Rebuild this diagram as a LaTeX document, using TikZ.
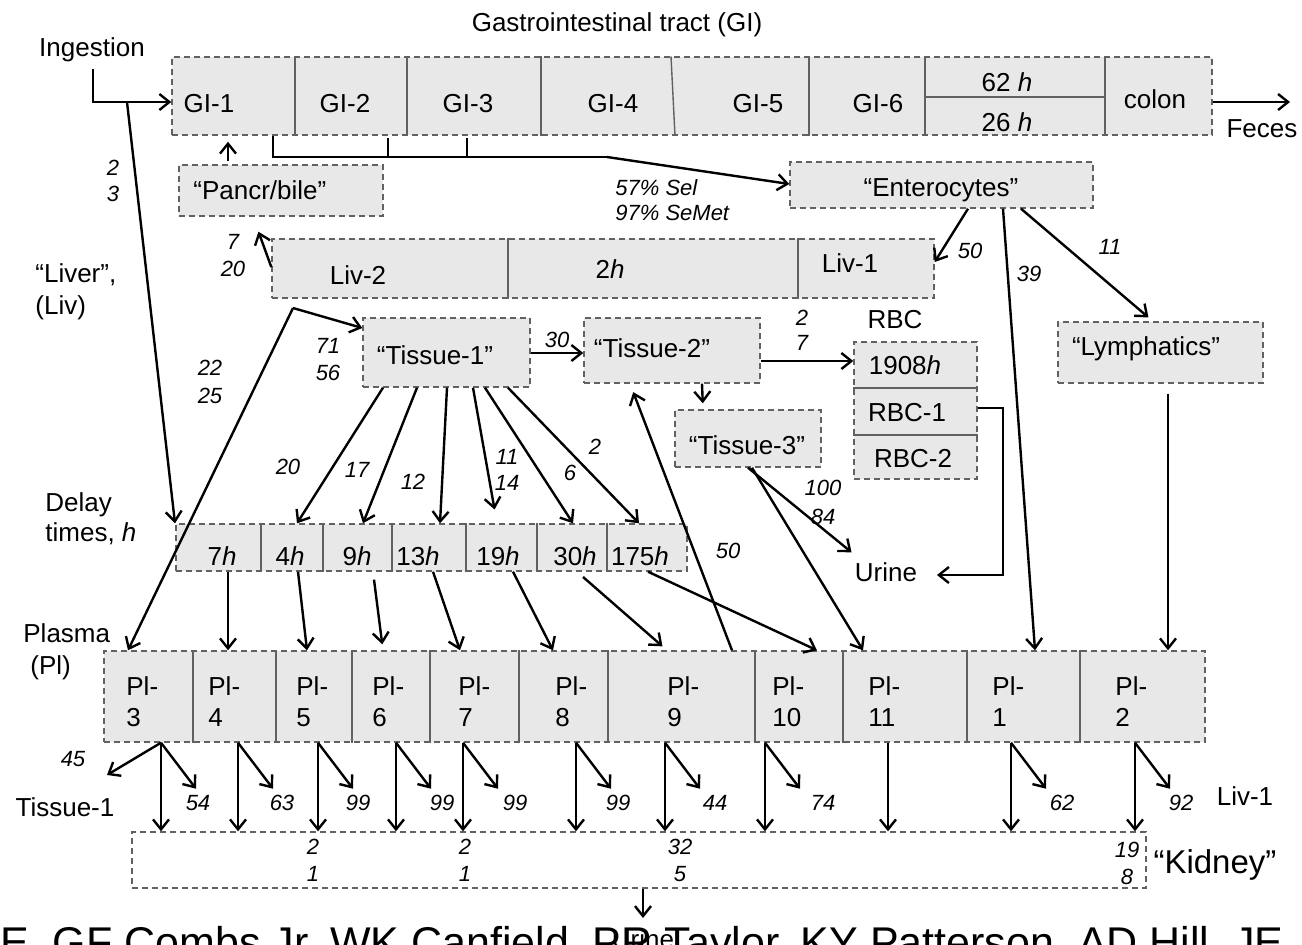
\documentclass[tikz,border=0pt]{standalone}
\usepackage{fontspec}
\setmainfont{Liberation Sans}
\usetikzlibrary{arrows.meta,fit}
\definecolor{boxfill}{gray}{0.91}
\definecolor{boxline}{gray}{0.38}
\begin{document}
\begin{tikzpicture}[x=0.5pt,y=-0.5pt,
  lab/.style={font=\fontsize{13}{15}\selectfont, inner sep=0pt, text height=9.3pt, text depth=0pt},
  num/.style={font=\fontsize{11}{13}\selectfont\itshape, inner sep=0pt, text height=7.9pt, text depth=0pt},
  box/.style={draw=boxline, fill=boxfill, line width=0.7pt, dash pattern=on 3pt off 2pt, inner sep=0pt},
  div/.style={draw=boxline, line width=0.7pt},
  ln/.style={line width=1.2pt},
  arr/.style={line width=1.2pt, -{Straight Barb[length=5pt,width=8pt]}}]
\useasboundingbox (0,0) rectangle (1302,944);
\clip (0,0) rectangle (1302,944);
\fill[white] (0,0) rectangle (1302,944);
\newcommand\twonum[6]{\node[num] (#1a) at (#2,#3) {#5}; \node[num] (#1b) at (#2,#4) {#6};}

% ---------- boxes ----------
\node[box, fit={(172,57) (1212,135)}] (GI) {};
\node[box, fit={(179,165) (383,216)}] (pancr) {};
\node[box, fit={(790,162) (1093,208)}] (ent) {};
\node[box, fit={(272,239) (934,298)}] (liv) {};
\node[box, fit={(1058,322) (1263,383)}] (lymph) {};
\node[box, fit={(363,318) (530,387)}] (T1) {};
\node[box, fit={(584,318) (760,383)}] (T2) {};
\node[box, fit={(675,410) (821,467)}] (T3) {};
\node[box, fit={(854,342) (977,479)}] (RBC) {};
\node[box, fit={(176,524) (687,571)}] (D) {};
\node[box, fit={(104,651) (1205,742)}] (Pl) {};
\node[box, fill=none, fit={(132,832) (1146,888)}] (K) {};

% ---------- dividers ----------
\foreach \x in {295,407,541,809,925,1105} \draw[div] (\x,0 |- GI.north) -- (\x,0 |- GI.south);
\draw[div] (671,0 |- GI.north) -- (675,0 |- GI.south);
\draw[div] (925,97) -- (1105,97);
\foreach \x in {508,798} \draw[div] (\x,0 |- liv.north) -- (\x,0 |- liv.south);
\foreach \y in {388,435} \draw[div] (RBC.west |- 0,\y) -- (RBC.east |- 0,\y);
\foreach \x in {261,323,392,466,537,607} \draw[div] (\x,0 |- D.north) -- (\x,0 |- D.south);
\foreach \x in {193,276,352,430,519,608,755,843,967,1080} \draw[div] (\x,0 |- Pl.north) -- (\x,0 |- Pl.south);

% ---------- texts ----------
\node[lab] (title) at (617,22) {Gastrointestinal tract (GI)};
\node[lab] (ingest) at (92,47) {Ingestion};
\node[lab] (gi1) at (209,103) {GI-1};
\node[lab] (gi2) at (345,103) {GI-2};
\node[lab] (gi3) at (468,103) {GI-3};
\node[lab] (gi4) at (613,103) {GI-4};
\node[lab] (gi5) at (758,103) {GI-5};
\node[lab] (gi6) at (878,103) {GI-6};
\node[lab] (h62) at (1007,82) {62 \textit{h}};
\node[lab] (h26) at (1007,122) {26 \textit{h}};
\node[lab] (colon) at (1155,99) {colon};
\node[lab] (feces) at (1262,128) {Feces};
\node[lab, anchor=west] (pancrt) at (193,190) {“Pancr/bile”};
\node[lab] (entt) at (941,187) {“Enterocytes”};
\node[num, anchor=west] (sel) at (615,188) {57\% Sel};
\node[num, anchor=west] (semet) at (615,213) {97\% SeMet};
\node[lab, anchor=west] (liver) at (35,273) {“Liver”,};
\node[lab, anchor=west] (livabbr) at (35,305) {(Liv)};
\node[lab] (liv2) at (358,275) {Liv-2};
\node[lab] (l2h) at (610,269) {2\textit{h}};
\node[lab] (liv1) at (850,263) {Liv-1};
\twonum{n23}{113}{168}{194}{2}{3}
\twonum{n720}{233}{242}{269}{7}{20}
\node[num] (n50a) at (970,251) {50};
\node[num] (n39) at (1029,274) {39};
\node[num] (n11a) at (1110,247) {11};
\node[lab] (lymt) at (1146,346) {“Lymphatics”};
\node[lab] (t1t) at (435,355) {“Tissue-1”};
\twonum{n7156}{328}{346}{373}{71}{56}
\twonum{n2225}{210}{368}{396}{22}{25}
\node[num] (n30) at (557,340) {30};
\node[lab] (t2t) at (652,348) {“Tissue-2”};
\twonum{n27}{802}{318}{343}{2}{7}
\node[lab] (t3t) at (747,445) {“Tissue-3”};
\twonum{n10084}{823}{488}{517}{100}{84}
\node[lab] (rbct) at (895,319) {RBC};
\node[lab] (r1908) at (905,365) {1908\textit{h}};
\node[lab] (rbc1) at (907,412) {RBC-1};
\node[lab] (rbc2) at (913,458) {RBC-2};
\node[lab] (urine1) at (886,572) {Urine};
\node[num] (n50b) at (728,551) {50};
\node[lab, anchor=west] (delay) at (45,502) {Delay};
\node[lab, anchor=west] (times) at (45,532) {times, \textit{h}};
\node[lab] (d7) at (222,556) {7\textit{h}};
\node[lab] (d4) at (290,556) {4\textit{h}};
\node[lab] (d9) at (357,556) {9\textit{h}};
\node[lab] (d13) at (418,556) {13\textit{h}};
\node[lab] (d19) at (498,556) {19\textit{h}};
\node[lab] (d30) at (575,556) {30\textit{h}};
\node[lab] (d175) at (640,556) {175\textit{h}};
\node[num] (n20) at (288,467) {20};
\node[num] (n17) at (357,470) {17};
\node[num] (n12) at (413,482) {12};
\twonum{n1114}{507}{457}{483}{11}{14}
\node[num] (n6) at (570,473) {6};
\node[num] (n2) at (595,447) {2};
\node[lab, anchor=west] (plasma) at (23,633) {Plasma};
\node[lab, anchor=west] (plabbr) at (30,665) {(Pl)};
\foreach \n/\x in {3/126,4/208,5/296,6/372,7/458,8/555,9/667,10/772,11/868,1/992,2/1115} {
  \node[lab, anchor=west] (pla\n) at (\x,686) {Pl-};
  \node[lab, anchor=west] (plb\n) at (\x,717) {\n};
}
\foreach \v/\x [count=\i] in {54/198,63/282,99/358,99/442,99/515,99/618,44/715,74/823,62/1062,92/1181}
  \node[num] (bn\i) at (\x,803) {\v};
\node[num] (n45) at (73,759) {45};
\node[lab] (tis1b) at (65,807) {Tissue-1};
\node[lab] (liv1b) at (1245,796) {Liv-1};
\twonum{k1}{313}{847}{874}{2}{1}
\twonum{k2}{465}{847}{874}{2}{1}
\twonum{k3}{680}{847}{874}{32}{5}
\twonum{k4}{1127}{850}{877}{19}{8}
\node[font=\fontsize{16.5}{18}\selectfont, inner sep=0pt, text height=11.8pt, text depth=0pt] (kid) at (1215,862) {“Kidney”};
\node[lab] (urine2) at (643,939) {Urine};
\node[anchor=base west, font=\fontsize{21.5}{24}\selectfont, inner sep=0pt] (cap) at (0,957) {E, GF Combs Jr, WK Canfield, PR Taylor, KY Patterson, AD Hill, JE};

% ---------- connectors ----------
\coordinate (ingc) at (93,102);
\coordinate (fec) at (1290,102);
\draw[arr] ([shift={(1,12)}]ingest.south) -- (ingc) -- (GI.west |- ingc);
\draw[arr] (127,0 |- ingc) -- (175,0 |- D.north);
\draw[arr] (GI.east |- fec) -- (fec);
\draw[ln] (273,0 |- GI.south) -- (273,157) -- (607,157);
\draw[arr] (607,157) -- (ent.west |- 0,184);
\draw[ln] (388,138) -- (388,157);
\draw[ln] (467,138) -- (467,157);
\draw[arr, shorten <=1.5pt, shorten >=3pt] (228,0 |- pancr.north) -- (228,0 |- GI.south);
\draw[arr, shorten >=8pt] (liv.west |- 0,267) -- (253,0 |- pancr.south);
\draw[arr] (968,0 |- ent.south) -- (liv.east |- 0,262);
\draw[arr] (1003,0 |- ent.south) -- (1035,0 |- Pl.north);
\draw[arr, shorten >=3pt] (1021,0 |- ent.south) -- (1153,0 |- lymph.north);
\draw[arr, shorten <=5pt] (1168,0 |- lymph.south) -- (1168,0 |- Pl.north);
\coordinate (lsplit) at (293,308);
\draw[arr] (lsplit) -- (T1.west |- 0,328);
\draw[arr] (lsplit) -- (128,0 |- Pl.north);
\draw[arr] (T1.east |- 0,353) -- (T2.west |- 0,353);
\draw[arr] (T2.east |- 0,361) -- (RBC.west |- 0,361);
\draw[arr, shorten >=3pt] (702,0 |- T2.south) -- (703,0 |- T3.north);
\draw[arr] (748,0 |- T3.south) -- ([shift={(-3,-10)}]urine1.north west);
\draw[arr] (752,0 |- T3.south) -- (863,0 |- Pl.north);
\draw[arr, shorten >=4.5pt] (732,0 |- Pl.north) -- (630,0 |- T2.south);
\coordinate (u1in) at (937,575);
\draw[arr] (RBC.east |- 0,408) -- (1003,408) -- (1003,575) -- (u1in);
% Tissue-1 to delay compartments
\draw[arr] (383,0 |- T1.south) -- (297,0 |- D.north);
\draw[arr] (417,0 |- T1.south) -- (363,0 |- D.north);
\draw[arr] (447,0 |- T1.south) -- (440,0 |- D.north);
\draw[arr, shorten >=7pt] (473,0 |- T1.south) -- (497,0 |- D.north);
\draw[arr] (485,0 |- T1.south) -- (573,0 |- D.north);
\draw[arr] (508,0 |- T1.south) -- (639,0 |- D.north);
% delay to plasma
\draw[arr] (228,0 |- D.south) -- (228,0 |- Pl.north);
\draw[arr] (298,0 |- D.south) -- (307,0 |- Pl.north);
\draw[arr, shorten <=4pt, shorten >=3pt] (373,0 |- D.south) -- (383,0 |- Pl.north);
\draw[arr] (433,0 |- D.south) -- (460,0 |- Pl.north);
\draw[arr] (513,0 |- D.south) -- (553,0 |- Pl.north);
\draw[arr, shorten <=4pt, shorten >=3pt] (577,0 |- D.south) -- (667,0 |- Pl.north);
\draw[arr] (648,0 |- D.south) -- (817,0 |- Pl.north);
% plasma to kidney / liver
\foreach \x in {161,238,318,396,463,576,665,765,888,1011,1135}
  \draw[arr] (\x,0 |- Pl.south) -- (\x,0 |- K.north);
\foreach \x in {161,238,318,396,463,576,665,765,1011,1135}
  \draw[arr] (\x,0 |- Pl.south) -- ++(35,46);
\draw[arr] (161,0 |- Pl.south) -- (107,775);
\draw[arr] (643,0 |- K.south) -- (643,918);
\end{tikzpicture}
\end{document}
